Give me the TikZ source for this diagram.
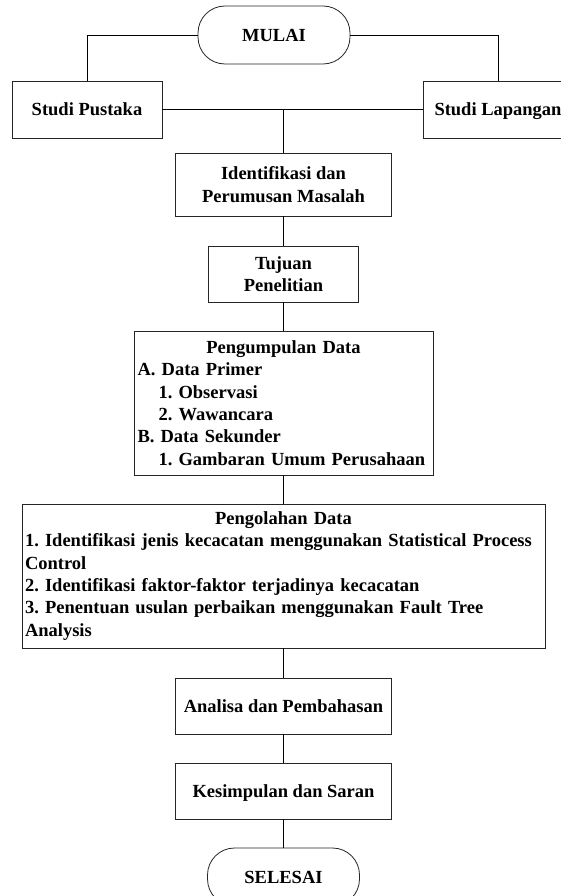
\documentclass[tikz,border=0pt]{standalone}
\usepackage{fontspec}
\setmainfont{Liberation Serif}[Ligatures=TeX]
\frenchspacing
\begin{document}
\begin{tikzpicture}[x=1pt,y=-1pt,
  every node/.style={font=\fontsize{18.5}{22.3}\selectfont\bfseries},
  boxnode/.style={draw=black!85, line width=0.8pt, rectangle, inner sep=0pt, align=center},
  oneline/.style={text height=12.3pt, text depth=0pt},
  term/.style={draw=black!85, line width=0.8pt, rectangle, rounded corners=27pt, inner sep=0pt,
               minimum width=152pt, minimum height=58pt, text height=12.3pt, text depth=0pt},
  conn/.style={draw=black, line width=0.8pt}]
\clip (0,0) rectangle (561,896);
\fill[white] (0,0) rectangle (561,896);

\node[term] (mulai) at (274,35) {MULAI};
\node[boxnode, oneline, minimum width=150pt, minimum height=57pt] (pustaka) at (87,109.5) {Studi Pustaka};
\node[boxnode, oneline, minimum width=150pt, minimum height=57pt] (lapangan) at (498,109.5) {Studi Lapangan};
\node[boxnode, minimum width=216pt, minimum height=63pt] (ident) at (283.5,184.5) {Identifikasi dan\\Perumusan Masalah};
\node[boxnode, minimum width=150pt, minimum height=56pt] (tujuan) at (283.5,274) {Tujuan\\Penelitian};
\node[boxnode, minimum width=299pt, minimum height=144pt, text width=292pt, inner xsep=3.5pt, align=left] (kumpul) at (283.5,403)
  {{\centering Pengumpulan Data\par}%
   \raggedright A. Data Primer\\
   \hspace*{21pt}1. Observasi\\
   \hspace*{21pt}2. Wawancara\\
   B. Data Sekunder\\
   \hspace*{21pt}1. Gambaran Umum Perusahaan};
\node[boxnode, minimum width=523pt, minimum height=144pt, text width=517pt, inner xsep=3pt, align=left] (olah) at (283.5,576)
  {{\centering Pengolahan Data\par}%
   \raggedright 1. Identifikasi jenis kecacatan menggunakan Statistical Process\\
   Control\\
   2. Identifikasi faktor-faktor terjadinya kecacatan\\
   3. Penentuan usulan perbaikan menggunakan Fault Tree\\
   Analysis};
\node[boxnode, oneline, minimum width=216pt, minimum height=56pt] (analisa) at (283.5,706) {Analisa dan Pembahasan};
\node[boxnode, oneline, minimum width=216pt, minimum height=56pt] (simpul) at (283.5,791) {Kesimpulan dan Saran};
\node[term] (selesai) at (283.5,877) {SELESAI};

\coordinate (jn) at (283.5,109.5);
\draw[conn] (mulai.west) -| (pustaka.north);
\draw[conn] (mulai.east) -| (lapangan.north);
\draw[conn] (pustaka.east) -- (lapangan.west);
\draw[conn] (jn) -- (ident.north);
\draw[conn] (ident) -- (tujuan);
\draw[conn] (tujuan) -- (kumpul);
\draw[conn] (kumpul) -- (olah);
\draw[conn] (olah) -- (analisa);
\draw[conn] (analisa) -- (simpul);
\draw[conn] (simpul) -- (selesai);
\end{tikzpicture}
\end{document}
